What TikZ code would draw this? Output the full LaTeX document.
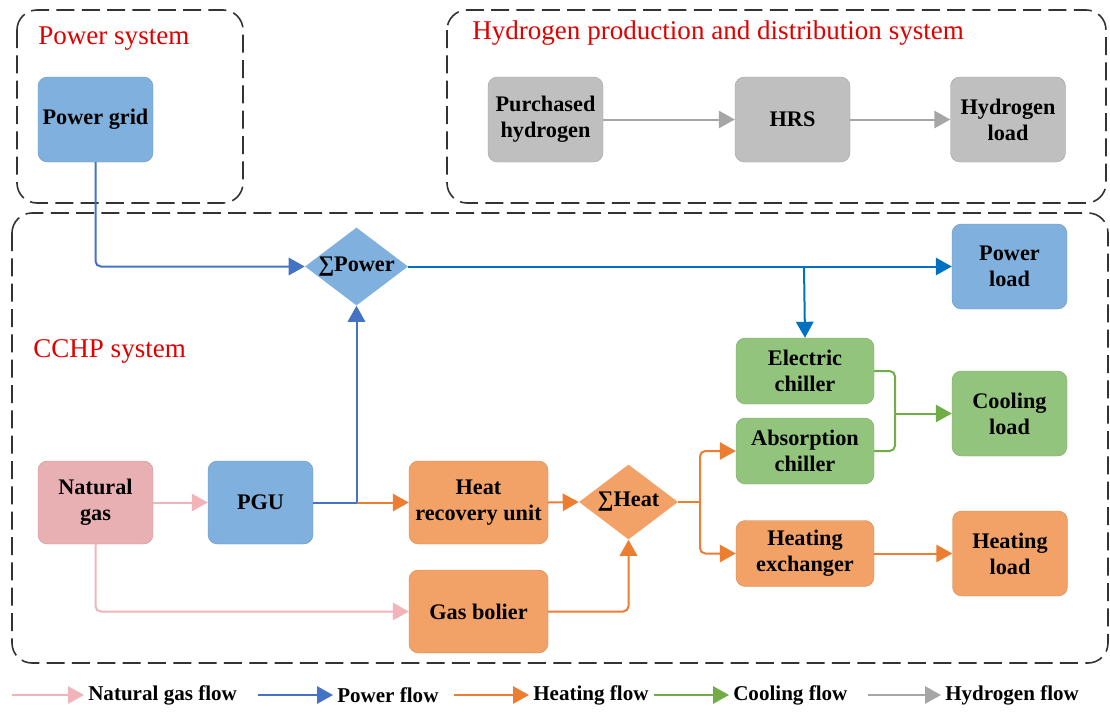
\documentclass[tikz,border=0pt]{standalone}
\usepackage{fontspec}
\setmainfont{Liberation Serif}
\usetikzlibrary{shapes.geometric,arrows.meta}
\definecolor{bfill}{HTML}{7FB0DE}
\definecolor{ofill}{HTML}{F2A266}
\definecolor{gfill}{HTML}{93C47D}
\definecolor{hfill}{HTML}{BFBFBF}
\definecolor{nfill}{HTML}{E9B0B4}
\definecolor{bline}{HTML}{4472C4}
\definecolor{bline2}{HTML}{0070C0}
\definecolor{oline}{HTML}{ED7D31}
\definecolor{gline}{HTML}{70AD47}
\definecolor{hline}{HTML}{A6A6A6}
\definecolor{nline}{HTML}{F2B4B8}
\definecolor{lred}{HTML}{E00000}
\tikzset{
  box/.style={rounded corners=7pt, inner sep=1pt, align=center,
    font=\bfseries\fontsize{16.7}{19.5}\selectfont, minimum width=86.25pt, minimum height=63.75pt},
  wbox/.style={box, minimum width=103.5pt, minimum height=49.5pt},
  bluebox/.style={fill=bfill, draw=bfill!85!black, line width=0.3pt},
  orbox/.style={fill=ofill, draw=ofill!85!black, line width=0.3pt},
  grbox/.style={fill=gfill, draw=gfill!85!black, line width=0.3pt},
  hybox/.style={fill=hfill, draw=hfill!85!black, line width=0.3pt},
  ngbox/.style={fill=nfill, draw=nfill!85!black, line width=0.3pt},
  sys/.style={draw=black!80, line width=1.2pt, dash pattern=on 13.5pt off 5.5pt, rounded corners=15pt},
  syslabel/.style={text=lred, font=\fontsize{20.3}{24}\selectfont, inner sep=0pt, anchor=base west},
  flow/.style={line width=1.5pt, rounded corners=4pt, -{Triangle[length=12pt,width=13pt]}},
  flowline/.style={line width=1.5pt, rounded corners=4pt},
  legtext/.style={font=\bfseries\fontsize{15.8}{19}\selectfont, inner sep=0pt, anchor=west},
  sumlabel/.style={font=\bfseries\fontsize{16.7}{19.5}\selectfont, inner sep=0pt}
}
\begin{document}
\begin{tikzpicture}[x=0.75pt,y=-0.75pt]
\useasboundingbox (0,0) rectangle (1110,711);
% system frames
\draw[sys] (17,10) rectangle (243,203);
\draw[sys] (447,10) rectangle (1106,203);
\draw[sys] (12,213) rectangle (1108,663);
\node[syslabel] (lps) at (38,44) {Power system};
\node[syslabel] (lhs) at (472,39) {Hydrogen production and distribution system};
\node[syslabel] (lcs) at (33,357) {CCHP system};
% nodes
\node[box,bluebox] (grid) at (95.5,119.5) {Power grid};
\node[box,hybox] (purch) at (545.5,119.5) {Purchased\\hydrogen};
\node[box,hybox] (hrs) at (792.5,119.5) {HRS};
\node[box,hybox] (hload) at (1008,119.5) {Hydrogen\\load};
\node[box,bluebox] (pload) at (1009.5,266.5) {Power\\load};
\node[wbox,grbox] (elec) at (805,371) {Electric\\chiller};
\node[wbox,grbox] (abs) at (805,451) {Absorption\\chiller};
\node[box,grbox] (cool) at (1009.5,413.5) {Cooling\\load};
\node[box,ngbox, minimum height=62.25pt] (ng) at (95.5,502.5) {Natural\\gas};
\node[box,bluebox, minimum width=78.75pt, minimum height=62.25pt] (pgu) at (260.5,502.5) {PGU};
\node[box,orbox, minimum width=104.25pt, minimum height=62.25pt] (hru) at (478.5,502.5) {Heat\\recovery unit};
\node[box,orbox, minimum width=104.25pt, minimum height=62.25pt] (gb) at (478.5,611.5) {Gas bolier};
\node[wbox,orbox] (hex) at (805,553.5) {Heating\\exchanger};
\node[box,orbox] (hl) at (1010,553.5) {Heating\\load};
\node[diamond, fill=bfill, inner sep=0pt, minimum width=77.25pt, minimum height=58.5pt,
      label={[sumlabel]center:∑Power}] (sumP) at (356.5,266.5) {};
\node[diamond, fill=ofill, inner sep=0pt, minimum width=74.25pt, minimum height=56.25pt,
      label={[sumlabel]center:∑Heat}] (sumH) at (628.5,502) {};
% junction coordinates
\coordinate (jpgu) at (356.5,502.5);
\coordinate (jpow) at (804,266.5);
\coordinate (jheat) at (700,502);
\coordinate (jcool) at (895,413.5);
% hydrogen flows
\draw[flow, hline] (purch) -- (hrs);
\draw[flow, hline] (hrs) -- (hload);
% power flows
\draw[flow, bline] (grid.south) |- (sumP.west);
\draw[flowline, bline] (pgu.east) -- (jpgu);
\draw[flow, bline] (jpgu) -- (sumP.south);
\draw[flow, bline2] (sumP.east) -- (pload.west);
\draw[flow, bline2] (jpow) -- (elec.north);
% natural gas flows
\draw[flow, nline] (ng.east) -- (pgu.west);
\draw[flow, nline] (ng.south) |- (gb.west);
% heating flows
\draw[flow, oline] (jpgu) -- (hru.west);
\draw[flow, oline] (hru.east) -- (sumH.west);
\draw[flow, oline] (gb.east) -| (sumH.south);
\draw[flowline, oline] (sumH.east) -- (jheat);
\draw[flow, oline] (jheat) |- (abs.west);
\draw[flow, oline] (jheat) |- (hex.west);
\draw[flow, oline] (hex.east) -- (hl.west);
% cooling flows
\draw[flowline, gline] (elec.east) -| (jcool);
\draw[flowline, gline] (abs.east) -| (jcool);
\draw[flow, gline] (jcool) -- (cool.west);
% legend
\node[legtext] (t1) at (88,695) {Natural gas flow};
\node[legtext] (t2) at (337,695) {Power flow};
\node[legtext] (t3) at (533,695) {Heating flow};
\node[legtext] (t4) at (733,695) {Cooling flow};
\node[legtext] (t5) at (945,695) {Hydrogen flow};
\coordinate (s1) at (12,695);
\coordinate (s2) at (258,695);
\coordinate (s3) at (454,695);
\coordinate (s4) at (654,695);
\coordinate (s5) at (868,695);
\draw[flow, nline] (s1) -- ([xshift=-3pt]t1.west);
\draw[flow, bline] (s2) -- ([xshift=-3pt]t2.west);
\draw[flow, oline] (s3) -- ([xshift=-3pt]t3.west);
\draw[flow, gline] (s4) -- ([xshift=-3pt]t4.west);
\draw[flow, hline] (s5) -- ([xshift=-3pt]t5.west);
\end{tikzpicture}
\end{document}
